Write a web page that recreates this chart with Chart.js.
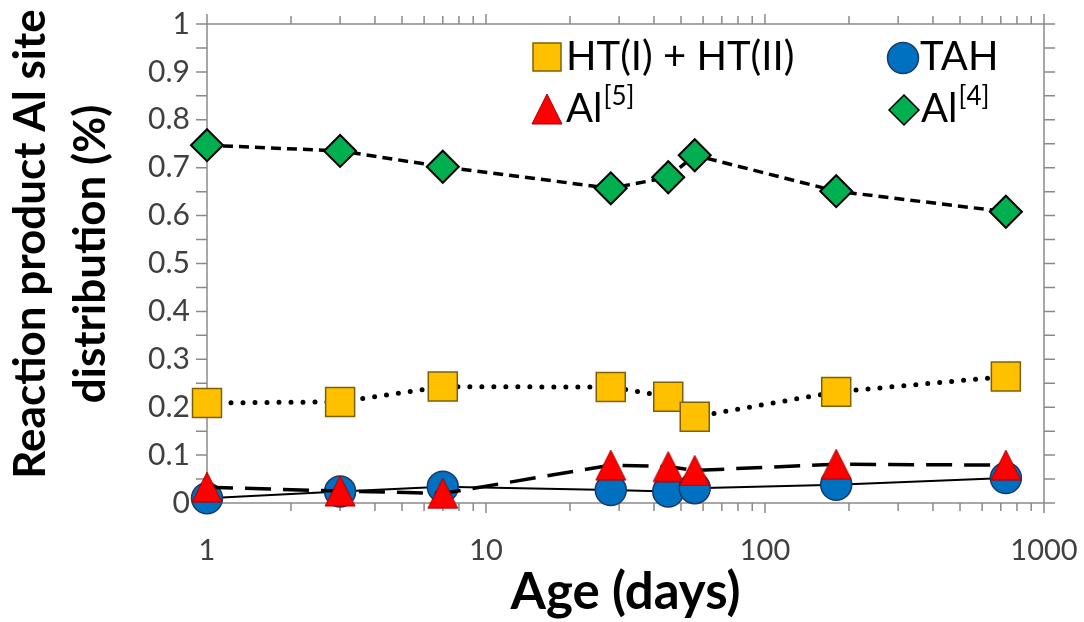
<!DOCTYPE html>
<html>
<head>
<meta charset="utf-8">
<script src="https://cdn.jsdelivr.net/npm/chart.js@4.4.1/dist/chart.umd.min.js"></script>
<style>
  html, body { margin: 0; padding: 0; background: #fff; }
  #wrap { width: 1084px; height: 622px; }
</style>
</head>
<body>
<div id="wrap"><canvas id="siteChart" width="1084" height="622"></canvas></div>
<script>
// values
const ageDays = [1, 3, 7, 28, 45, 56, 180, 730];
const htValues = [0.209, 0.211, 0.243, 0.242, 0.222, 0.180, 0.232, 0.264];
const tahValues = [0.010, 0.024, 0.034, 0.027, 0.024, 0.031, 0.038, 0.052];
const al5Values = [0.033, 0.025, 0.020, 0.079, 0.076, 0.068, 0.081, 0.079];
const al4Values = [0.747, 0.735, 0.702, 0.657, 0.680, 0.726, 0.651, 0.608];

const xLabels = [1, 10, 100, 1000];
const xMinorSteps = [2, 3, 4, 5, 6, 7, 8, 9];
const yTitleLines = ["Reaction product Al site", "distribution (%)"];

const FONT = "Lato, 'Open Sans', sans-serif";

function toPoints(values) {
  return ageDays.map((d, i) => ({ x: d, y: values[i] }));
}

// Excel style triangle, centred on its bounding box
function makeTriangle(w, h, fill, stroke) {
  const c = document.createElement("canvas");
  c.width = w + 2;
  c.height = h + 2;
  const g = c.getContext("2d");
  g.beginPath();
  g.moveTo(c.width / 2, 1);
  g.lineTo(c.width - 1, h + 1);
  g.lineTo(1, h + 1);
  g.closePath();
  g.fillStyle = fill;
  g.fill();
  g.lineWidth = 1;
  g.strokeStyle = stroke;
  g.stroke();
  return c;
}

const triangleMark = makeTriangle(30, 30, "#FF0000", "#A00000");

const xTickValues = [];
xLabels.forEach((base, i) => {
  xTickValues.push(base);
  if (i < xLabels.length - 1) {
    xMinorSteps.forEach((m) => xTickValues.push(base * m));
  }
});

const frameAndTicks = {
  id: "frameAndTicks",
  beforeDatasetsDraw(chart) {
    const { ctx, chartArea: a, scales } = chart;
    const x = scales.x;
    const y = scales.y;
    ctx.save();
    ctx.strokeStyle = "#8a8a8a";
    ctx.lineWidth = 1.5;
    ctx.beginPath();
    ctx.rect(a.left, a.top, a.right - a.left, a.bottom - a.top);
    x.ticks.forEach((t) => {
      const px = x.getPixelForValue(t.value);
      const len = xLabels.includes(t.value) ? 10 : 8;
      ctx.moveTo(px, a.bottom);
      ctx.lineTo(px, a.bottom + len);
      ctx.moveTo(px, a.top);
      ctx.lineTo(px, a.top - len);
    });
    y.ticks.forEach((t) => {
      const py = y.getPixelForValue(t.value);
      ctx.moveTo(a.left, py);
      ctx.lineTo(a.left - 11, py);
      ctx.moveTo(a.right, py);
      ctx.lineTo(a.right + 11, py);
    });
    ctx.stroke();
    ctx.restore();
  },
};

function drawLabel(ctx, x, y, main, sup) {
  ctx.font = `40px ${FONT}`;
  ctx.fillStyle = "#000";
  ctx.textAlign = "left";
  ctx.textBaseline = "middle";
  ctx.fillText(main, x, y);
  if (sup) {
    const w = ctx.measureText(main).width;
    ctx.font = `26px ${FONT}`;
    ctx.fillText(sup, x + w + 1, y - 12);
  }
}

const legendBox = {
  id: "legendBox",
  afterDraw(chart) {
    const ctx = chart.ctx;
    ctx.save();
    // HT(I) + HT(II)
    ctx.fillStyle = "#FFC000";
    ctx.strokeStyle = "#7F6000";
    ctx.lineWidth = 1.5;
    ctx.fillRect(533, 43, 28, 28);
    ctx.strokeRect(533, 43, 28, 28);
    drawLabel(ctx, 566, 57, "HT(I) + HT(II)");
    // TAH
    ctx.beginPath();
    ctx.arc(903, 58, 15.5, 0, Math.PI * 2);
    ctx.fillStyle = "#0070C0";
    ctx.fill();
    ctx.strokeStyle = "#1F3864";
    ctx.stroke();
    drawLabel(ctx, 920, 57, "TAH");
    // Al[5]
    ctx.drawImage(triangleMark, 547 - triangleMark.width / 2, 109 - triangleMark.height / 2);
    drawLabel(ctx, 566, 109, "Al", "[5]");
    // Al[4]
    ctx.beginPath();
    ctx.moveTo(904, 95);
    ctx.lineTo(919, 110);
    ctx.lineTo(904, 125);
    ctx.lineTo(889, 110);
    ctx.closePath();
    ctx.fillStyle = "#00B050";
    ctx.fill();
    ctx.strokeStyle = "#000";
    ctx.lineWidth = 1.5;
    ctx.stroke();
    drawLabel(ctx, 921, 109, "Al", "[4]");

    // y axis title, two centred lines
    ctx.font = `bold 44px ${FONT}`;
    ctx.textAlign = "center";
    ctx.textBaseline = "middle";
    ctx.fillStyle = "#000";
    [[31, 244], [91, 254]].forEach(([tx, ty], i) => {
      ctx.save();
      ctx.translate(tx, ty);
      ctx.rotate(-Math.PI / 2);
      ctx.fillText(yTitleLines[i], 0, 0);
      ctx.restore();
    });
    ctx.restore();
  },
};

const ctx = document.getElementById("siteChart");

new Chart(ctx, {
  type: "scatter",
  data: {
    datasets: [
      {
        label: "Al[5]",
        data: toPoints(al5Values),
        showLine: true,
        clip: false,
        borderColor: "#000",
        borderWidth: 3.5,
        borderDash: [26, 12],
        pointStyle: triangleMark,
        pointRadius: 15,
      },
      {
        label: "TAH",
        data: toPoints(tahValues),
        showLine: true,
        clip: false,
        borderColor: "#000",
        borderWidth: 2,
        pointStyle: "circle",
        pointRadius: 15.5,
        pointBackgroundColor: "#0070C0",
        pointBorderColor: "#1F3864",
        pointBorderWidth: 1.5,
      },
      {
        label: "HT(I) + HT(II)",
        data: toPoints(htValues),
        showLine: true,
        clip: false,
        borderColor: "#000",
        borderWidth: 5,
        borderDash: [0, 12],
        borderCapStyle: "round",
        pointStyle: "rect",
        pointRadius: 20.5,
        pointBackgroundColor: "#FFC000",
        pointBorderColor: "#7F6000",
        pointBorderWidth: 1.5,
      },
      {
        label: "Al[4]",
        data: toPoints(al4Values),
        showLine: true,
        clip: false,
        borderColor: "#000",
        borderWidth: 3.5,
        borderDash: [10, 6],
        pointStyle: "rectRot",
        pointRadius: 16,
        pointBackgroundColor: "#00B050",
        pointBorderColor: "#000",
        pointBorderWidth: 2,
      },
    ],
  },
  options: {
    responsive: false,
    animation: false,
    events: [],
    layout: { padding: { top: 24, right: 40, left: 0, bottom: 0 } },
    plugins: {
      legend: { display: false },
      tooltip: { enabled: false },
    },
    scales: {
      x: {
        type: "logarithmic",
        min: 1,
        max: 1000,
        afterBuildTicks: (scale) => {
          scale.ticks = xTickValues.map((v) => ({ value: v }));
        },
        afterFit: (scale) => {
          scale.height = 119;
          scale.paddingLeft = 0;
          scale.paddingRight = 0;
        },
        grid: { display: false, drawTicks: false },
        border: { display: false },
        ticks: {
          autoSkip: false,
          maxRotation: 0,
          padding: 30,
          color: "#404040",
          font: { family: FONT, size: 29 },
          callback: (v) => (xLabels.includes(v) ? String(v) : ""),
        },
        title: {
          display: true,
          text: "Age (days)",
          color: "#000",
          font: { family: FONT, size: 51, weight: "bold", lineHeight: 1.15 },
          padding: { top: 0, bottom: 0 },
        },
      },
      y: {
        min: 0,
        max: 1,
        afterFit: (scale) => {
          scale.width = 207;
          scale.paddingTop = 0;
          scale.paddingBottom = 0;
        },
        grid: { display: false, drawTicks: false },
        border: { display: false },
        ticks: {
          stepSize: 0.05,
          autoSkip: false,
          padding: 17,
          color: "#404040",
          font: { family: FONT, size: 30 },
          callback: (v, i) => (i % 2 === 0 ? String(+v.toFixed(1)) : ""),
        },
      },
    },
  },
  plugins: [frameAndTicks, legendBox],
});
</script>
</body>
</html>
